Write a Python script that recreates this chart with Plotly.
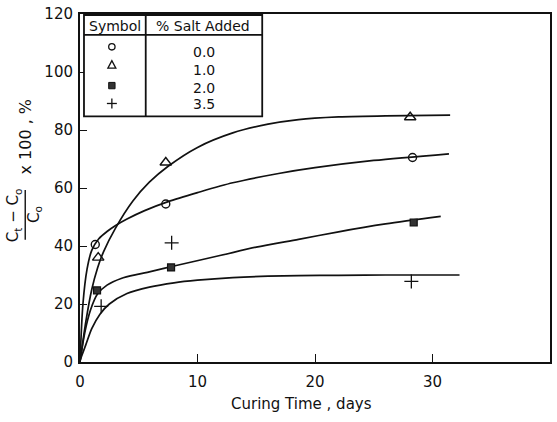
import plotly.graph_objects as go

# Measured points: % increase vs curing time for each salt level
salt_levels = ["0.0", "1.0", "2.0", "3.5"]

days_0 = [1.3, 7.3, 28.3]
pct_0 = [40.5, 54.5, 70.5]
days_1 = [1.55, 7.3, 28.1]
pct_1 = [36.0, 68.8, 84.4]
days_2 = [1.45, 7.75, 28.4]
pct_2 = [24.7, 32.6, 48.1]
days_3 = [1.8, 7.8, 28.2]
pct_3 = [19.2, 41.1, 27.8]

# Smooth fitted curves, traced by hand
fit_x_0 = [0, 0.25, 0.6, 1.0, 1.6, 2.3, 3.0, 4.0, 5.5, 7.5, 10, 13, 16.9, 20, 25, 31.4]
fit_y_0 = [0, 20, 32, 38.5, 42.5, 45.0, 47.0, 49.3, 52.2, 55.3, 58.4, 61.8, 65.0, 67.0, 69.5, 71.8]
fit_x_1 = [0, 0.5, 1.0, 1.5, 2.0, 3.0, 4.5, 5.9, 7.5, 10, 13, 16, 18.6, 22, 26, 31.5]
fit_y_1 = [0, 14, 25, 32.5, 38, 46.0, 55.5, 62.0, 67.5, 74.0, 79.0, 82.0, 83.6, 84.5, 84.9, 85.1]
fit_x_2 = [0, 0.4, 0.9, 1.5, 2.3, 3.5, 5.0, 5.9, 8.0, 12, 15, 18.6, 22, 26, 30.7]
fit_y_2 = [0, 10, 18, 23.5, 26.5, 28.8, 30.3, 31.1, 33.1, 36.8, 39.6, 42.3, 44.9, 47.6, 50.2]
fit_x_3 = [0, 0.5, 1.0, 1.7, 2.5, 4.0, 5.9, 8.0, 10, 13, 16, 18.6, 22, 26, 32.3]
fit_y_3 = [0.5, 6, 11.5, 16.5, 20.0, 23.6, 25.8, 27.3, 28.2, 29.1, 29.6, 29.8, 29.9, 30.0, 30.0]

x_ticks = [0, 10, 20, 30, 40]
y_ticks = [0, 20, 40, 60, 80, 100, 120]

W, H = 557, 422
ML, MR, MT, MB = 80, 5, 12, 60
PW, PH = W - ML - MR, H - MT - MB

def px(xp):
    return (xp - ML) / PW

def py(yp):
    return (H - MB - yp) / PH

FONT = "DejaVu Sans, Verdana, sans-serif"
INK = "#111"

fig = go.Figure()

curve_sets = [(fit_x_0, fit_y_0), (fit_x_1, fit_y_1), (fit_x_2, fit_y_2), (fit_x_3, fit_y_3)]
for cx, cy in curve_sets:
    fig.add_trace(go.Scatter(x=cx, y=cy, mode="lines",
                             line=dict(color=INK, width=1.7, shape="spline", smoothing=0.8),
                             hoverinfo="skip", showlegend=False))

marker_styles = [
    dict(symbol="circle-open", size=8, color=INK, line=dict(width=1.4, color=INK)),
    dict(symbol="triangle-up-open", size=10, color=INK, line=dict(width=1.4, color=INK)),
    dict(symbol="square", size=7, color="#333", line=dict(width=1.2, color=INK)),
    dict(symbol="cross-thin-open", size=10, color=INK, line=dict(width=1.3, color=INK)),
]
point_sets = [(days_0, pct_0), (days_1, pct_1), (days_2, pct_2), (days_3, pct_3)]
for (dx, dy), ms, lvl in zip(point_sets, marker_styles, salt_levels):
    fig.add_trace(go.Scatter(x=dx, y=dy, mode="markers", marker=ms,
                             name=lvl, showlegend=False))

shapes = []
annotations = []

def label(text, xp, yp, size=14, angle=0):
    annotations.append(dict(text=text, x=px(xp), y=py(yp), xref="paper", yref="paper",
                            xanchor="center", yanchor="middle", showarrow=False,
                            textangle=angle, font=dict(family=FONT, size=size, color=INK)))

# Symbol key table in the upper left
tx0, tx1, ty0, ty1 = 84, 263, 13, 115
head_y, col_x = 33, 146
line = dict(color=INK, width=1.8)
shapes.append(dict(type="rect", xref="paper", yref="paper",
                   x0=px(tx0), x1=px(tx1), y0=py(ty1), y1=py(ty0),
                   line=line, fillcolor="white", layer="above"))
shapes.append(dict(type="line", xref="paper", yref="paper",
                   x0=px(tx0), x1=px(tx1), y0=py(head_y), y1=py(head_y), line=line))
shapes.append(dict(type="line", xref="paper", yref="paper",
                   x0=px(col_x), x1=px(col_x), y0=py(ty1), y1=py(ty0), line=line))

label("Symbol", 115, 24)
label("% Salt Added", 204, 24)

row_y = [45, 63, 84, 102]
sym_x = 112
sw = 1.3
# circle
r = 3.2
shapes.append(dict(type="circle", xref="paper", yref="paper",
                   x0=px(sym_x - r), x1=px(sym_x + r), y0=py(row_y[0] + r), y1=py(row_y[0] - r),
                   line=dict(color=INK, width=sw)))
# triangle
tyc = row_y[1]
shapes.append(dict(type="path", xref="paper", yref="paper",
                   path=f"M {px(sym_x - 4)} {py(tyc + 3.5)} L {px(sym_x + 4)} {py(tyc + 3.5)} "
                        f"L {px(sym_x)} {py(tyc - 4)} Z",
                   line=dict(color=INK, width=sw)))
# filled square
s = 3.2
shapes.append(dict(type="rect", xref="paper", yref="paper",
                   x0=px(sym_x - s), x1=px(sym_x + s), y0=py(row_y[2] + s), y1=py(row_y[2] - s),
                   line=dict(color=INK, width=1), fillcolor="#333"))
# plus
p = 5
shapes.append(dict(type="line", xref="paper", yref="paper",
                   x0=px(sym_x - p), x1=px(sym_x + p), y0=py(row_y[3]), y1=py(row_y[3]),
                   line=dict(color=INK, width=sw)))
shapes.append(dict(type="line", xref="paper", yref="paper",
                   x0=px(sym_x), x1=px(sym_x), y0=py(row_y[3] - p), y1=py(row_y[3] + p),
                   line=dict(color=INK, width=sw)))

val_y = [50, 68, 86, 103]
for lvl, yy in zip(salt_levels, val_y):
    label(lvl, 205, yy)

# y-axis title drawn as a rotated fraction
yfrac = 214
label("C<sub>t</sub> − C<sub>o</sub>", 14, yfrac, size=15, angle=-90)
shapes.append(dict(type="line", xref="paper", yref="paper",
                   x0=px(25), x1=px(25), y0=py(239), y1=py(189),
                   line=dict(color=INK, width=1.4)))
label("C<sub>o</sub>", 35, yfrac, size=15, angle=-90)
label("x 100 , %", 25, 135, size=16, angle=-90)

# x-axis title
label("Curing Time , days", 302, 404, size=15)

fig.update_layout(
    width=W, height=H,
    margin=dict(l=ML, r=MR, t=MT, b=MB),
    paper_bgcolor="white", plot_bgcolor="white",
    shapes=shapes, annotations=annotations,
    showlegend=False,
)
fig.update_xaxes(range=[0, 40], tickvals=x_ticks, ticktext=[str(v) for v in x_ticks],
                 ticks="inside", ticklen=8, tickwidth=1.3, tickcolor=INK,
                 showline=True, linecolor=INK, linewidth=2, mirror=True,
                 showgrid=False, zeroline=False, ticklabelstandoff=5,
                 tickfont=dict(family=FONT, size=15, color=INK))
fig.update_yaxes(range=[0, 120], tickvals=y_ticks, ticktext=[str(v) for v in y_ticks],
                 ticks="inside", ticklen=7, tickwidth=1.3, tickcolor=INK,
                 showline=True, linecolor=INK, linewidth=2, mirror=True,
                 showgrid=False, zeroline=False, ticklabelstandoff=2,
                 tickfont=dict(family=FONT, size=15, color=INK))

fig.write_html("out.html")
